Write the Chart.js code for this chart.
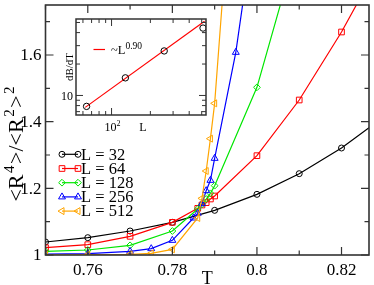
<!DOCTYPE html>
<html>
<head>
<meta charset="utf-8">
<script src="https://cdn.jsdelivr.net/npm/chart.js@4/dist/chart.umd.min.js"></script>
<style>
  body { margin: 0; background: #fff; }
  #wrap { position: relative; width: 374px; height: 285px; }
  #main { position: absolute; left: 0; top: 0; }
  #inset { position: absolute; left: 46px; top: 10px; }
</style>
</head>
<body>
<div id="wrap">
  <canvas id="main" width="374" height="285"></canvas>
  <canvas id="inset" width="165" height="130"></canvas>
</div>
<script>
// main panel: Binder-like ratio vs T for each L
const t32 = [0.75, 0.76, 0.77, 0.78, 0.79, 0.80, 0.81, 0.82, 0.83];
const b32 = [1.039, 1.052, 1.072, 1.098, 1.134, 1.182, 1.244, 1.321, 1.415];
const t64 = [0.75, 0.76, 0.77, 0.78, 0.786, 0.787, 0.788, 0.789, 0.79, 0.80, 0.81, 0.82, 0.83];
const b64 = [1.022, 1.031, 1.056, 1.098, 1.140, 1.150, 1.157, 1.168, 1.177, 1.298, 1.465, 1.669, 1.90];
const t128 = [0.75, 0.76, 0.77, 0.78, 0.786, 0.787, 0.788, 0.789, 0.79, 0.80, 0.81];
const b128 = [1.011, 1.015, 1.029, 1.072, 1.138, 1.152, 1.168, 1.185, 1.208, 1.503, 1.95];
const t256 = [0.75, 0.76, 0.77, 0.775, 0.78, 0.785, 0.786, 0.787, 0.788, 0.789, 0.79, 0.795, 0.80];
const b256 = [1.003, 1.004, 1.011, 1.019, 1.044, 1.111, 1.125, 1.154, 1.193, 1.224, 1.290, 1.608, 2.05];
const t512 = [0.75, 0.76, 0.77, 0.775, 0.78, 0.786, 0.787, 0.788, 0.789, 0.79, 0.795];
const b512 = [1.000, 1.001, 1.002, 1.005, 1.017, 1.111, 1.170, 1.252, 1.349, 1.455, 2.30];

const seriesLabels = ['L = 32', 'L = 64', 'L = 128', 'L = 256', 'L = 512'];
const xMajor = [0.76, 0.78, 0.80, 0.82];
const xMinor = [0.75, 0.77, 0.79, 0.81];
const yMajor = [1.0, 1.2, 1.4, 1.6];
const yMinor = [1.1, 1.3, 1.5, 1.7];

// inset: dB/dT vs L (log-log)
const insetL = [64, 128, 256, 512];
const insetSlope = [7.86, 14.75, 26.7, 44.2];
const fitL = [62.5, 526];
const fitSlope = [7.69, 51.4];
const insetXMinor = [60, 70, 80, 90, 200, 300, 400, 500];
const insetYMinor = [7, 8, 9, 20, 30, 40, 50];

const tList = [t32, t64, t128, t256, t512];
const bList = [b32, b64, b128, b256, b512];
const colors = ['#000000', '#ff0000', '#00e600', '#0000ff', '#ffa500'];
const styles = ['circle', 'rect', 'rectRot', 'triangle', 'triangle'];
const rotations = [0, 0, 0, 0, -90];
const radii = [3, 4, 3.4, 4, 4];

const SERIF = '"Liberation Serif", "DejaVu Serif", serif';
const FRAME = '#333';

function font(size) { return size + 'px ' + SERIF; }

// draw text made of pieces [text, size, dy], with a small gap between pieces
function richText(ctx, parts, x, y, align, gap) {
  gap = gap || 0;
  let w = 0;
  parts.forEach(p => { ctx.font = font(p[1]); w += ctx.measureText(p[0]).width; });
  w += gap * (parts.length - 1);
  let cx = align === 'center' ? x - w / 2 : align === 'right' ? x - w : x;
  ctx.textAlign = 'left';
  ctx.textBaseline = 'alphabetic';
  parts.forEach(p => {
    ctx.font = font(p[1]);
    ctx.fillText(p[0], cx, y + p[2]);
    cx += ctx.measureText(p[0]).width + gap;
  });
}

function inwardTicks(chart, axis, values, len) {
  const ctx = chart.ctx, a = chart.chartArea, s = chart.scales[axis];
  ctx.beginPath();
  values.forEach(v => {
    const p = s.getPixelForValue(v);
    if (axis === 'x') {
      ctx.moveTo(p, a.bottom); ctx.lineTo(p, a.bottom - len);
      ctx.moveTo(p, a.top); ctx.lineTo(p, a.top + len);
    } else {
      ctx.moveTo(a.left, p); ctx.lineTo(a.left + len, p);
      ctx.moveTo(a.right, p); ctx.lineTo(a.right - len, p);
    }
  });
  ctx.stroke();
}

function marker(ctx, i, x, y) {
  ctx.save();
  ctx.strokeStyle = colors[i];
  ctx.fillStyle = 'rgba(0,0,0,0)';
  ctx.lineWidth = 1;
  Chart.helpers.drawPoint(ctx, { pointStyle: styles[i], rotation: rotations[i], radius: radii[i], borderWidth: 1 }, x, y);
  ctx.restore();
}

const mainDecor = {
  id: 'mainDecor',
  afterDatasetsDraw(chart) {
    const ctx = chart.ctx, a = chart.chartArea;
    const xs = chart.scales.x, ys = chart.scales.y;
    ctx.save();
    ctx.strokeStyle = FRAME;
    ctx.lineWidth = 1.6;
    ctx.strokeRect(a.left, a.top, a.right - a.left, a.bottom - a.top);
    ctx.lineWidth = 1.2;
    inwardTicks(chart, 'x', xMajor, 8);
    inwardTicks(chart, 'x', xMinor, 4.5);
    inwardTicks(chart, 'y', yMajor, 8);
    inwardTicks(chart, 'y', yMinor, 4.5);

    ctx.fillStyle = '#000';
    ctx.font = font(17);
    ctx.textAlign = 'center';
    ctx.textBaseline = 'alphabetic';
    xMajor.forEach(v => ctx.fillText(String(+v.toFixed(2)), xs.getPixelForValue(v), 275));
    ctx.textAlign = 'right';
    ctx.textBaseline = 'middle';
    yMajor.forEach(v => ctx.fillText(String(+v.toFixed(1)), a.left - 4, ys.getPixelForValue(v) + 1));

    // axis titles
    ctx.font = font(18);
    ctx.textAlign = 'center';
    ctx.textBaseline = 'alphabetic';
    ctx.fillText('T', (a.left + a.right) / 2, 284);
    ctx.save();
    ctx.translate(23, 144);
    ctx.rotate(-Math.PI / 2);
    richText(ctx, [['<R', 22, 0], ['4', 15, -9], ['>/<R', 22, 0], ['2', 15, -9], ['>', 22, 0], ['2', 15, -9]], 0, 0, 'center', 1.5);
    ctx.restore();

    // legend
    seriesLabels.forEach((lab, i) => {
      const y = 154.3 + i * 14.2;
      ctx.strokeStyle = colors[i];
      ctx.lineWidth = 1.2;
      ctx.beginPath();
      ctx.moveTo(62, y); ctx.lineTo(78, y);
      ctx.stroke();
      marker(ctx, i, 62, y);
      marker(ctx, i, 78, y);
      ctx.fillStyle = '#000';
      ctx.font = font(16.5);
      ctx.textAlign = 'left';
      ctx.textBaseline = 'middle';
      ctx.fillText(lab, 81, y + 1);
    });
    ctx.restore();
  }
};

new Chart(document.getElementById('main'), {
  type: 'line',
  data: {
    datasets: seriesLabels.map((lab, i) => ({
      label: lab,
      data: tList[i].map((t, k) => ({ x: t, y: bList[i][k] })),
      borderColor: colors[i],
      borderWidth: 1.2,
      pointStyle: styles[i],
      pointRotation: rotations[i],
      pointRadius: radii[i],
      pointBorderColor: colors[i],
      pointBackgroundColor: 'rgba(0,0,0,0)',
      pointBorderWidth: 1,
      tension: 0,
      fill: false,
      order: seriesLabels.length - i
    }))
  },
  options: {
    responsive: false,
    animation: false,
    devicePixelRatio: 1,
    layout: { padding: { top: 1, right: 1.5, left: 0, bottom: 0 } },
    plugins: { legend: { display: false }, tooltip: { enabled: false } },
    scales: {
      x: {
        type: 'linear', min: 0.75, max: 0.8265,
        grid: { display: false }, border: { display: false },
        ticks: { display: false },
        afterFit: s => { s.height = 30; }
      },
      y: {
        type: 'linear', min: 1.0, max: 1.75,
        grid: { display: false }, border: { display: false },
        ticks: { display: false },
        afterFit: s => { s.width = 45.5; }
      }
    }
  },
  plugins: [mainDecor]
});

const insetDecor = {
  id: 'insetDecor',
  beforeDatasetsDraw(chart) {
    const ctx = chart.ctx, a = chart.chartArea;
    ctx.save();
    ctx.fillStyle = '#fff';
    ctx.fillRect(a.left, a.top, a.right - a.left, a.bottom - a.top);
    ctx.restore();
  },
  afterDatasetsDraw(chart) {
    const ctx = chart.ctx, a = chart.chartArea;
    const xs = chart.scales.x, ys = chart.scales.y;
    ctx.save();
    ctx.strokeStyle = FRAME;
    ctx.lineWidth = 1.5;
    ctx.strokeRect(a.left, a.top, a.right - a.left, a.bottom - a.top);
    ctx.lineWidth = 1;
    inwardTicks(chart, 'x', [100], 7);
    inwardTicks(chart, 'x', insetXMinor, 4);
    inwardTicks(chart, 'y', [10], 7);
    inwardTicks(chart, 'y', insetYMinor, 4);

    ctx.fillStyle = '#000';
    ctx.font = font(12);
    ctx.textAlign = 'right';
    ctx.textBaseline = 'middle';
    ctx.fillText('10', a.left - 3, ys.getPixelForValue(10) + 1);
    richText(ctx, [['10', 12, 0], ['2', 8, -5]], xs.getPixelForValue(100) + 1, a.bottom + 16, 'center');
    ctx.font = font(12);
    ctx.textAlign = 'center';
    ctx.textBaseline = 'alphabetic';
    ctx.fillText('L', (a.left + a.right) / 2 + 2, a.bottom + 16);
    ctx.save();
    ctx.translate(a.left - 3, (a.top + a.bottom) / 2);
    ctx.rotate(-Math.PI / 2);
    ctx.font = font(11);
    ctx.fillText('dB/dT', 0, 0);
    ctx.restore();

    // legend
    ctx.strokeStyle = '#ff0000';
    ctx.lineWidth = 1.2;
    ctx.beginPath();
    ctx.moveTo(47.5, 39.5); ctx.lineTo(59, 39.5);
    ctx.stroke();
    richText(ctx, [['~L', 12.5, 0], ['0.90', 9.5, -5]], 65, 43.5, 'left');
    ctx.restore();
  }
};

new Chart(document.getElementById('inset'), {
  type: 'line',
  data: {
    datasets: [
      {
        label: 'dB/dT',
        data: insetL.map((l, k) => ({ x: l, y: insetSlope[k] })),
        showLine: false,
        pointStyle: 'circle',
        pointRadius: 3.2,
        pointBorderColor: '#000',
        pointBackgroundColor: 'rgba(0,0,0,0)',
        pointBorderWidth: 1
      },
      {
        label: '~L^0.90',
        data: fitL.map((l, k) => ({ x: l, y: fitSlope[k] })),
        borderColor: '#ff0000',
        borderWidth: 1.2,
        pointRadius: 0,
        tension: 0
      }
    ]
  },
  options: {
    responsive: false,
    animation: false,
    devicePixelRatio: 1,
    layout: { padding: { top: 9, right: 5, left: 0, bottom: 0 } },
    plugins: { legend: { display: false }, tooltip: { enabled: false } },
    scales: {
      x: {
        type: 'logarithmic', min: 53, max: 540,
        grid: { display: false }, border: { display: false },
        ticks: { display: false },
        afterFit: s => { s.height = 25; }
      },
      y: {
        type: 'logarithmic', min: 6.5, max: 54,
        grid: { display: false }, border: { display: false },
        ticks: { display: false },
        afterFit: s => { s.width = 30; }
      }
    }
  },
  plugins: [insetDecor]
});
</script>
</body>
</html>
